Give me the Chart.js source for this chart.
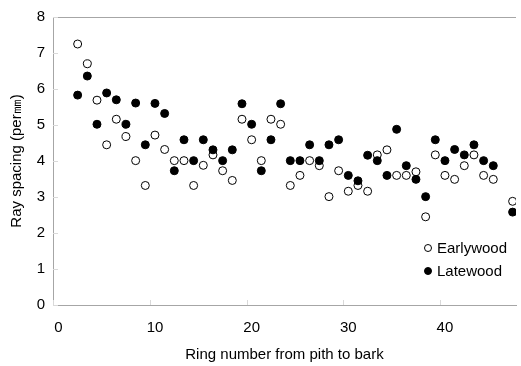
<!DOCTYPE html>
<html>
<head>
<meta charset="utf-8">
<script src="https://cdn.jsdelivr.net/npm/chart.js@4/dist/chart.umd.min.js"></script>
<style>
  html, body { margin: 0; padding: 0; background: #fff; }
  #wrap { width: 521px; height: 366px; }
</style>
</head>
<body>
<div id="wrap"><canvas id="c" width="521" height="366"></canvas></div>
<script>
const rings = [2,3,4,5,6,7,8,9,10,11,12,13,14,15,16,17,18,19,20,21,22,23,24,25,26,27,28,29,30,31,32,33,34,35,36,37,38,39,40,41,42,43,44,45,47];
const earlywood = [7.25,6.70,5.69,4.45,5.16,4.68,4.01,3.32,4.72,4.32,4.01,4.01,3.32,3.88,4.17,3.73,3.46,5.16,4.59,4.01,5.16,5.02,3.32,3.60,4.01,3.87,3.01,3.73,3.16,3.32,3.16,4.17,4.31,3.60,3.60,3.70,2.45,4.17,3.60,3.49,3.87,4.17,3.60,3.49,2.88];
const latewood = [5.83,6.36,5.02,5.89,5.70,5.02,5.61,4.45,5.60,5.32,3.73,4.59,4.01,4.59,4.31,4.01,4.31,5.59,5.02,3.73,4.59,5.59,4.01,4.01,4.45,4.01,4.45,4.59,3.60,3.45,4.16,4.01,3.60,4.88,3.87,3.49,3.01,4.59,4.01,4.32,4.17,4.45,4.01,3.87,2.58];
const xTicks = [0,10,20,30,40];
const yTicks = [0,1,2,3,4,5,6,7,8];
const seriesNames = ['Earlywood','Latewood'];
const xTitle = 'Ring number from pith to bark';
const yTitle = 'Ray spacing (per\u339C)';

const FONT = "'Liberation Sans', Arial, sans-serif";
const axisGray = '#a6a6a6';

const toPts = (vals) => rings.map((r, i) => ({x: r, y: vals[i]}));

const decor = {
  id: 'decor',
  afterDatasetsDraw(chart) {
    const {ctx, chartArea: a, scales: {x, y}} = chart;
    ctx.save();
    ctx.strokeStyle = axisGray;
    ctx.lineWidth = 1;
    ctx.beginPath();
    ctx.moveTo(a.left, a.top + 0.5);
    ctx.lineTo(a.right, a.top + 0.5);
    ctx.stroke();
    ctx.strokeStyle = '#d9d9d9';
    yTicks.forEach(v => {
      const py = Math.round(y.getPixelForValue(v)) + 0.5;
      ctx.beginPath();
      ctx.moveTo(a.left, py);
      ctx.lineTo(a.left + 5, py);
      ctx.stroke();
    });
    xTicks.forEach(v => {
      const px = Math.round(x.getPixelForValue(v)) - 4.5;
      ctx.beginPath();
      ctx.moveTo(px, a.bottom);
      ctx.lineTo(px, a.bottom - 5);
      ctx.stroke();
    });
    ctx.restore();

    ctx.save();
    const lx = 428, ly = [248, 271];
    chart.data.datasets.forEach((ds, i) => {
      ctx.beginPath();
      ctx.arc(lx, ly[i], 3.5, 0, Math.PI * 2);
      ctx.fillStyle = ds.backgroundColor;
      ctx.fill();
      ctx.strokeStyle = ds.borderColor;
      ctx.lineWidth = 1;
      ctx.stroke();
      ctx.fillStyle = '#000';
      ctx.font = '15px ' + FONT;
      ctx.textBaseline = 'middle';
      ctx.textAlign = 'left';
      ctx.fillText(ds.label, 437, ly[i] + 1);
    });
    ctx.restore();
  }
};

new Chart(document.getElementById('c'), {
  type: 'scatter',
  data: {
    datasets: [
      {
        label: seriesNames[0],
        data: toPts(earlywood),
        backgroundColor: '#ffffff',
        borderColor: '#000000',
        borderWidth: 1,
        pointRadius: 4,
        order: 1
      },
      {
        label: seriesNames[1],
        data: toPts(latewood),
        backgroundColor: '#000000',
        borderColor: '#000000',
        borderWidth: 1,
        pointRadius: 4,
        order: 0
      }
    ]
  },
  options: {
    responsive: false,
    animation: false,
    layout: { padding: { top: 12, right: 0, left: 0, bottom: 0 } },
    plugins: {
      legend: { display: false },
      tooltip: { enabled: false }
    },
    scales: {
      x: {
        type: 'linear',
        min: -0.55,
        max: 47.35,
        afterBuildTicks: (s) => { s.ticks = xTicks.map(v => ({value: v})); },
        afterFit: (s) => { s.height = 61; },
        grid: { display: false, drawTicks: false },
        border: { display: true, color: axisGray, width: 1 },
        ticks: { padding: 14, color: '#000', font: { family: FONT, size: 15 }, maxRotation: 0 },
        title: { display: true, text: xTitle, color: '#000', font: { family: FONT, size: 15 }, padding: { top: 0, bottom: 2 } }
      },
      y: {
        type: 'linear',
        min: 0,
        max: 8,
        afterBuildTicks: (s) => { s.ticks = yTicks.map(v => ({value: v})); },
        afterFit: (s) => { s.width = 53; },
        grid: { display: false, drawTicks: false },
        border: { display: true, color: axisGray, width: 1 },
        ticks: { padding: 8, color: '#000', font: { family: FONT, size: 15 } },
        title: { display: true, text: yTitle, color: '#000', font: { family: FONT, size: 15 }, padding: { top: 8, bottom: 0 } }
      }
    }
  },
  plugins: [decor]
});
</script>
</body>
</html>
